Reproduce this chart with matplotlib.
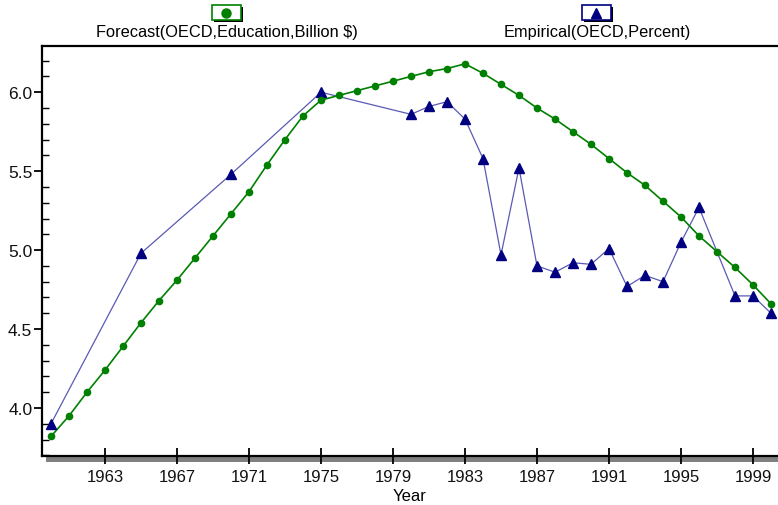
import matplotlib
matplotlib.use("Agg")
import matplotlib.pyplot as plt
from matplotlib.patches import Rectangle
from matplotlib.lines import Line2D
from matplotlib.ticker import MultipleLocator, FixedLocator

plt.rcParams['font.family'] = ['Liberation Sans', 'DejaVu Sans']

forecast_years = list(range(1960, 2001))
forecast_values = [3.82, 3.95, 4.10, 4.24, 4.39, 4.54, 4.68, 4.81, 4.95, 5.09,
                   5.23, 5.37, 5.54, 5.70, 5.85, 5.95, 5.98, 6.01, 6.04, 6.07,
                   6.10, 6.13, 6.15, 6.18, 6.12, 6.05, 5.98, 5.90, 5.83, 5.75,
                   5.67, 5.58, 5.49, 5.41, 5.31, 5.21, 5.09, 4.99, 4.89, 4.78,
                   4.66]

empirical_years = [1960, 1965, 1970, 1975, 1980, 1981, 1982, 1983, 1984, 1985,
                   1986, 1987, 1988, 1989, 1990, 1991, 1992, 1993, 1994, 1995,
                   1996, 1998, 1999, 2000]
empirical_values = [3.90, 4.98, 5.48, 6.00, 5.86, 5.91, 5.94, 5.83, 5.58, 4.97,
                    5.52, 4.90, 4.86, 4.92, 4.91, 5.01, 4.77, 4.84, 4.80, 5.05,
                    5.27, 4.71, 4.71, 4.60]

x_ticks = [1963, 1967, 1971, 1975, 1979, 1983, 1987, 1991, 1995, 1999]
y_ticks = [4.0, 4.5, 5.0, 5.5, 6.0]
legend_labels = ["Forecast(OECD,Education,Billion $)", "Empirical(OECD,Percent)"]
x_label = "Year"

W, H = 778, 506
fig = plt.figure(figsize=(W / 100, H / 100), dpi=100)

def fx(px):
    return px / W

def fy(py):
    return 1 - py / H

ax_left, ax_right, ax_top, ax_bottom = 42, 778, 46.5, 457.3
ax = fig.add_axes([fx(ax_left), fy(ax_bottom), fx(ax_right - ax_left), (ax_bottom - ax_top) / H])

green = '#008000'
navy = '#000080'

ax.plot(empirical_years, empirical_values, color='#5a5ab4', lw=0.9, zorder=2)
ax.plot(empirical_years, empirical_values, ls='none', marker='^', ms=7.5,
        color=navy, markeredgecolor=navy, zorder=4, clip_on=False)
ax.plot(forecast_years, forecast_values, color=green, lw=1.2, zorder=3)
ax.plot(forecast_years, forecast_values, ls='none', marker='o', ms=4.5,
        color=green, markeredgecolor=green, zorder=5, clip_on=False)

ax.set_xlim(1959.5, 1959.5 + (ax_right - ax_left) / 18.0)
ax.set_ylim(3.694, 6.296)

ax.xaxis.set_major_locator(FixedLocator(x_ticks))
ax.set_xticklabels([str(t) for t in x_ticks])
ax.yaxis.set_major_locator(FixedLocator(y_ticks))
ax.set_yticklabels([f"{t:.1f}" for t in y_ticks])
ax.yaxis.set_minor_locator(MultipleLocator(0.1))

for s in ['left', 'bottom', 'top']:
    ax.spines[s].set_linewidth(1.6)
    ax.spines[s].set_color('black')
ax.spines['right'].set_visible(False)

ax.tick_params(axis='x', which='major', direction='inout', length=12, width=1.3,
               labelsize=12, pad=3)
ax.tick_params(axis='y', which='major', direction='out', length=6, width=1.3,
               labelsize=12.5, pad=1)
ax.tick_params(axis='y', which='minor', direction='in', length=5, width=1.0)
ax.tick_params(axis='x', which='minor', length=0)
for lab in ax.get_xticklabels() + ax.get_yticklabels():
    lab.set_color('#111111')

ax.set_xlabel(x_label, fontsize=12, labelpad=3)

# grey shadow under x axis
fig.add_artist(Rectangle((fx(46), fy(462.5)), fx(W - 46), 4.5 / H,
                         transform=fig.transFigure, facecolor='#808080',
                         edgecolor='none', zorder=0))

# legend
def legend_box(cx, color, marker, ms):
    bw, bh = 29, 15
    top = 6
    fig.add_artist(Rectangle((fx(cx - bw / 2 + 2), fy(top + bh + 2)), bw / W, bh / H,
                             transform=fig.transFigure, facecolor='black',
                             edgecolor='none'))
    fig.add_artist(Rectangle((fx(cx - bw / 2), fy(top + bh)), bw / W, bh / H,
                             transform=fig.transFigure, facecolor='white',
                             edgecolor=color, lw=1.2))
    fig.add_artist(Line2D([fx(cx)], [fy(top + bh / 2)], marker=marker, ms=ms,
                          color=color, transform=fig.transFigure, ls='none'))

legend_box(226, green, 'o', 6.5)
legend_box(596, navy, '^', 7)
fig.text(fx(227), fy(33), legend_labels[0], ha='center', va='center', fontsize=11.8)
fig.text(fx(597), fy(33), legend_labels[1], ha='center', va='center', fontsize=11.8)

fig.savefig('out.png', dpi=100)
